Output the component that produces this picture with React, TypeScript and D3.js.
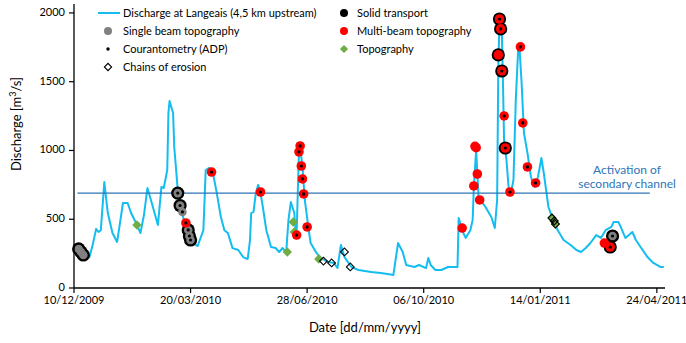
import * as d3 from "d3";

type Pt = [string, number];

const parseDate = d3.utcParse("%d/%m/%Y");

// daily discharge at Langeais (m3/s)
const discharge: Pt[] = [
  ["23/12/2009", 218], ["26/12/2009", 313], ["29/12/2009", 430], ["31/12/2009", 407],
  ["02/01/2010", 420], ["05/01/2010", 770], ["08/01/2010", 545], ["12/01/2010", 400],
  ["16/01/2010", 335], ["21/01/2010", 618], ["25/01/2010", 618], ["28/01/2010", 545],
  ["02/02/2010", 458], ["05/02/2010", 400], ["08/02/2010", 530], ["11/02/2010", 727],
  ["14/02/2010", 640], ["20/02/2010", 458], ["23/02/2010", 735], ["25/02/2010", 727],
  ["28/02/2010", 858], ["01/03/2010", 1273], ["02/03/2010", 1360], ["05/03/2010", 1273],
  ["06/03/2010", 1025], ["09/03/2010", 713], ["13/03/2010", 530], ["18/03/2010", 407],
  ["22/03/2010", 327], ["26/03/2010", 305], ["31/03/2010", 420], ["02/04/2010", 858],
  ["05/04/2010", 873], ["08/04/2010", 843], ["11/04/2010", 713], ["15/04/2010", 516],
  ["18/04/2010", 420], ["21/04/2010", 400], ["25/04/2010", 290], ["30/04/2010", 276],
  ["04/05/2010", 225], ["08/05/2010", 211], ["10/05/2010", 349], ["11/05/2010", 545],
  ["13/05/2010", 553], ["15/05/2010", 691], ["17/05/2010", 750], ["19/05/2010", 691],
  ["21/05/2010", 589], ["24/05/2010", 420], ["28/05/2010", 298], ["01/06/2010", 291],
  ["04/06/2010", 262], ["07/06/2010", 291], ["10/06/2010", 255], ["12/06/2010", 495],
  ["14/06/2010", 625], ["17/06/2010", 545], ["18/06/2010", 420], ["19/06/2010", 400],
  ["21/06/2010", 1004], ["22/06/2010", 1025], ["24/06/2010", 880], ["26/06/2010", 640],
  ["29/06/2010", 444], ["01/07/2010", 327], ["06/07/2010", 255], ["10/07/2010", 218],
  ["16/07/2010", 189], ["21/07/2010", 182], ["24/07/2010", 145], ["27/07/2010", 313],
  ["30/07/2010", 225], ["05/08/2010", 153], ["11/08/2010", 131], ["22/08/2010", 116],
  ["30/08/2010", 109], ["05/09/2010", 102], ["10/09/2010", 95], ["14/09/2010", 327],
  ["18/09/2010", 262], ["21/09/2010", 167], ["28/09/2010", 153], ["02/10/2010", 167],
  ["08/10/2010", 145], ["10/10/2010", 218], ["12/10/2010", 167], ["16/10/2010", 131],
  ["21/10/2010", 131], ["27/10/2010", 153], ["04/11/2010", 153], ["05/11/2010", 509],
  ["09/11/2010", 400], ["11/11/2010", 364], ["15/11/2010", 420], ["17/11/2010", 495],
  ["18/11/2010", 735], ["20/11/2010", 1004], ["21/11/2010", 836], ["22/11/2010", 662],
  ["28/11/2010", 589], ["03/12/2010", 516], ["06/12/2010", 436], ["08/12/2010", 640],
  ["09/12/2010", 1607], ["10/12/2010", 1949], ["12/12/2010", 1876], ["13/12/2010", 1491],
  ["14/12/2010", 1055], ["16/12/2010", 931], ["18/12/2010", 713], ["20/12/2010", 698],
  ["22/12/2010", 785], ["24/12/2010", 1367], ["26/12/2010", 1731], ["27/12/2010", 1767],
  ["29/12/2010", 1491], ["31/12/2010", 1127], ["03/01/2011", 982], ["06/01/2011", 807],
  ["09/01/2011", 735], ["12/01/2011", 807], ["15/01/2011", 945], ["17/01/2011", 836],
  ["21/01/2011", 589], ["25/01/2011", 495], ["29/01/2011", 420], ["03/02/2011", 349],
  ["09/02/2011", 313], ["14/02/2011", 276], ["18/02/2011", 262], ["22/02/2011", 291],
  ["26/02/2011", 327], ["03/03/2011", 385], ["07/03/2011", 364], ["11/03/2011", 420],
  ["16/03/2011", 444], ["18/03/2011", 480], ["22/03/2011", 480], ["24/03/2011", 444],
  ["28/03/2011", 364], ["31/03/2011", 385], ["03/04/2011", 407], ["06/04/2011", 349],
  ["10/04/2011", 298], ["16/04/2011", 225], ["21/04/2011", 182], ["27/04/2011", 153],
  ["30/04/2011", 153],
];

const solidTransport: Pt[] = [
  ["14/12/2009", 284], ["16/12/2009", 262], ["18/12/2009", 240],
  ["09/03/2010", 690], ["11/03/2010", 600], ["18/03/2010", 422], ["19/03/2010", 378], ["20/03/2010", 349],
  ["09/12/2010", 1695], ["10/12/2010", 1956], ["11/12/2010", 1884], ["12/12/2010", 1578], ["15/12/2010", 1018],
  ["15/03/2011", 298], ["17/03/2011", 378],
];

const singleBeam: Pt[] = [
  ["14/12/2009", 284], ["16/12/2009", 262], ["18/12/2009", 240],
  ["09/03/2010", 690], ["11/03/2010", 600], ["13/03/2010", 553], ["18/03/2010", 422],
  ["19/03/2010", 378], ["20/03/2010", 349], ["17/03/2011", 378],
];

const multiBeam: Pt[] = [
  ["16/03/2010", 473], ["07/04/2010", 843], ["19/05/2010", 698], ["19/06/2010", 385],
  ["21/06/2010", 990], ["22/06/2010", 1033], ["23/06/2010", 887], ["24/06/2010", 793],
  ["25/06/2010", 684], ["28/06/2010", 444], ["08/11/2010", 436], ["18/11/2010", 742],
  ["19/11/2010", 1030], ["20/11/2010", 1020], ["21/11/2010", 829], ["23/11/2010", 640],
  ["09/12/2010", 1695], ["10/12/2010", 1956], ["11/12/2010", 1884], ["12/12/2010", 1578],
  ["14/12/2010", 1251], ["15/12/2010", 1018], ["19/12/2010", 698], ["28/12/2010", 1753],
  ["30/12/2010", 1200], ["03/01/2011", 880], ["10/01/2011", 764], ["10/03/2011", 327],
  ["15/03/2011", 298],
];

const courantometry: Pt[] = [
  ["09/03/2010", 690], ["11/03/2010", 600], ["13/03/2010", 553], ["16/03/2010", 473],
  ["18/03/2010", 422], ["19/03/2010", 378], ["20/03/2010", 349], ["07/04/2010", 843],
  ["19/05/2010", 698], ["19/06/2010", 385], ["21/06/2010", 990], ["22/06/2010", 1033],
  ["23/06/2010", 887], ["24/06/2010", 793], ["25/06/2010", 684], ["28/06/2010", 444],
  ["10/12/2010", 1956], ["11/12/2010", 1884], ["12/12/2010", 1578], ["14/12/2010", 1251],
  ["15/12/2010", 1018], ["19/12/2010", 698], ["28/12/2010", 1753], ["30/12/2010", 1200],
  ["03/01/2011", 880], ["10/01/2011", 764], ["15/03/2011", 298], ["17/03/2011", 378],
];

const topography: Pt[] = [
  ["02/02/2010", 458], ["11/06/2010", 262], ["16/06/2010", 480], ["17/06/2010", 407],
  ["08/07/2010", 211], ["24/01/2011", 509], ["26/01/2011", 487], ["27/01/2011", 465],
];

const erosionChains: Pt[] = [
  ["12/07/2010", 196], ["19/07/2010", 182], ["30/07/2010", 262], ["04/08/2010", 153],
  ["24/01/2011", 509], ["26/01/2011", 487], ["27/01/2011", 465],
];

const xTickLabels = ["10/12/2009", "20/03/2010", "28/06/2010", "06/10/2010", "14/01/2011", "24/04/2011"];
const yTickValues = [0, 500, 1000, 1500, 2000];
const activation = { from: "13/12/2009", to: "18/04/2011", value: 690 };

const FONT = "Lato, 'Liberation Sans', sans-serif";
const CYAN = "#14bdf0";
const BLUE = "#2e75b6";
const GREEN = "#70ad47";

const diamond = (size: number) => d3.symbol(d3.symbolSquare, size)()!;

export default function App() {
  const x = d3
    .scaleUtc()
    .domain([parseDate("10/12/2009")!, parseDate("01/05/2011")!])
    .range([74, 665]);
  const y = d3.scaleLinear().domain([0, 2065]).range([288, 4]);
  const px = (d: Pt) => x(parseDate(d[0])!);
  const py = (d: Pt) => y(d[1]);

  const line = d3.line<Pt>().x(px).y(py);
  const [x0, x1] = x.range();
  const [yBottom, yTop] = y.range();

  return (
    <svg
      width={686}
      height={343}
      style={{ position: "absolute", left: 0, top: 0, background: "#fff" }}
      fontFamily={FONT}
    >
      {/* discharge hydrograph */}
      <path d={line(discharge)!} fill="none" stroke={CYAN} strokeWidth={2} strokeLinejoin="round" />

      {/* activation threshold */}
      <line
        x1={x(parseDate(activation.from)!)}
        x2={x(parseDate(activation.to)!)}
        y1={y(activation.value)}
        y2={y(activation.value)}
        stroke={BLUE}
        strokeWidth={1.2}
      />
      <text x={627} y={174} fontSize={12} fill={BLUE} textAnchor="middle">Activation of</text>
      <text x={627} y={188} fontSize={12} fill={BLUE} textAnchor="middle">secondary channel</text>

      {/* markers */}
      {solidTransport.map((d, i) => (
        <circle key={"st" + i} cx={px(d)} cy={py(d)} r={6.6} fill="#000" />
      ))}
      {singleBeam.map((d, i) => (
        <circle key={"sb" + i} cx={px(d)} cy={py(d)} r={4.3} fill="#808080" />
      ))}
      {topography.map((d, i) => (
        <path key={"tp" + i} d={diamond(44)} transform={`translate(${px(d)},${py(d)}) rotate(45)`} fill={GREEN} />
      ))}
      {erosionChains.map((d, i) => (
        <path
          key={"ec" + i}
          d={diamond(30)}
          transform={`translate(${px(d)},${py(d)}) rotate(45)`}
          fill="none"
          stroke="#000"
          strokeWidth={1.1}
        />
      ))}
      {multiBeam.map((d, i) => (
        <circle key={"mb" + i} cx={px(d)} cy={py(d)} r={4.8} fill="#ff0000" />
      ))}
      {courantometry.map((d, i) => (
        <circle key={"adp" + i} cx={px(d)} cy={py(d)} r={1.6} fill="#000" />
      ))}

      {/* axes */}
      <line x1={x0} x2={x0} y1={yTop} y2={yBottom} stroke="#000" strokeWidth={1.3} />
      <line x1={x0} x2={x1} y1={yBottom} y2={yBottom} stroke="#000" strokeWidth={1.3} />
      {yTickValues.map((v) => (
        <g key={"yt" + v}>
          <line x1={x0 - 5} x2={x0} y1={y(v)} y2={y(v)} stroke="#000" strokeWidth={1.2} />
          <text x={x0 - 9} y={y(v) - 1} dy="0.35em" fontSize={11} textAnchor="end" fill="#000">
            {v}
          </text>
        </g>
      ))}
      {xTickLabels.map((s) => (
        <g key={"xt" + s}>
          <line x1={x(parseDate(s)!)} x2={x(parseDate(s)!)} y1={yBottom} y2={yBottom + 5} stroke="#000" strokeWidth={1.2} />
          <text x={x(parseDate(s)!)} y={304} fontSize={11} textAnchor="middle" fill="#000">
            {s}
          </text>
        </g>
      ))}
      <text x={365} y={332} fontSize={13} textAnchor="middle" fill="#000">Date [dd/mm/yyyy]</text>
      <text transform="translate(21,124) rotate(-90)" fontSize={13} textAnchor="middle" fill="#000">
        Discharge [m<tspan dy={-5} fontSize={9}>3</tspan>
        <tspan dy={5}>/s]</tspan>
      </text>

      {/* legend */}
      <g fontSize={11} fill="#000">
        <line x1={98} x2={120} y1={13} y2={13} stroke={CYAN} strokeWidth={2} />
        <text x={123} y={17}>Discharge at Langeais (4,5 km upstream)</text>
        <circle cx={108} cy={31} r={4} fill="#808080" />
        <text x={123} y={35}>Single beam topography</text>
        <circle cx={108} cy={49} r={1.7} fill="#000" />
        <text x={123} y={53}>Courantometry (ADP)</text>
        <path d={diamond(26)} transform="translate(108,67) rotate(45)" fill="#fff" stroke="#000" strokeWidth={1.1} />
        <text x={123} y={71}>Chains of erosion</text>

        <circle cx={344} cy={13} r={4} fill="#000" />
        <text x={357} y={17}>Solid transport</text>
        <circle cx={344} cy={31} r={4} fill="#ff0000" />
        <text x={357} y={35}>Multi-beam topography</text>
        <path d={diamond(34)} transform="translate(344,49) rotate(45)" fill={GREEN} />
        <text x={357} y={53}>Topography</text>
      </g>
    </svg>
  );
}
